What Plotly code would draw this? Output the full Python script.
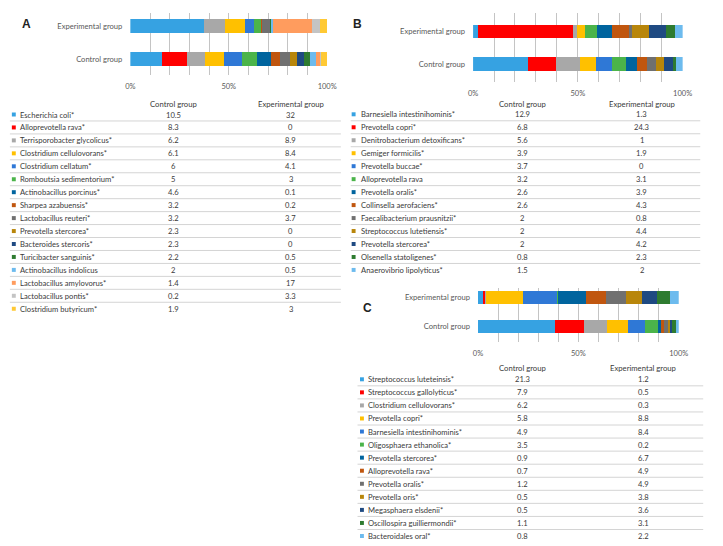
import plotly.graph_objects as go

W, H = 723, 546
groups = ["Control group", "Experimental group"]

palette = ["#36A2E2", "#FF0000", "#A8A8A8", "#FFC000", "#2F78D6", "#4BB44A",
           "#00649E", "#C0560F", "#707070", "#B8860B", "#1F4A82", "#2E7B30",
           "#6DBBEE", "#FF9C5E", "#C4C4C4", "#FFC934"]

a_names = ["Escherichia coli*", "Alloprevotella rava*", "Terrisporobacter glycolicus*",
           "Clostridium cellulovorans*", "Clostridium cellatum*", "Romboutsia sedimentorium*",
           "Actinobacillus porcinus*", "Sharpea azabuensis*", "Lactobacillus reuteri*",
           "Prevotella stercorea*", "Bacteroides stercoris*", "Turicibacter sanguinis*",
           "Actinobacillus indolicus", "Lactobacillus amylovorus*", "Lactobacillus pontis*",
           "Clostridium butyricum*"]
a_control = [10.5, 8.3, 6.2, 6.1, 6, 5, 4.6, 3.2, 3.2, 2.3, 2.3, 2.2, 2, 1.4, 0.2, 1.9]
a_exp = [32, 0, 8.9, 8.4, 4.1, 3, 0.1, 0.2, 3.7, 0, 0, 0.5, 0.5, 17, 3.3, 3]

b_names = ["Barnesiella intestinihominis*", "Prevotella copri*", "Denitrobacterium detoxificans*",
           "Gemiger formicilis*", "Prevotella buccae*", "Alloprevotella rava",
           "Prevotella oralis*", "Collinsella aerofaciens*", "Faecalibacterium prausnitzii*",
           "Streptococcus lutetiensis*", "Prevotella stercorea*", "Olsenella statoligenes*",
           "Anaerovibrio lipolyticus*"]
b_control = [12.9, 6.8, 5.6, 3.9, 3.7, 3.2, 2.6, 2.6, 2, 2, 2, 0.8, 1.5]
b_exp = [1.3, 24.3, 1, 1.9, 0, 3.1, 3.9, 4.3, 0.8, 4.4, 4.2, 2.3, 2]

c_names = ["Streptococcus luteteinsis*", "Streptococcus gallolyticus*", "Clostridium cellulovorans*",
           "Prevotella copri*", "Barnesiella intestinihominis*", "Oligosphaera ethanolica*",
           "Prevotella stercorea*", "Alloprevotella rava*", "Prevotella oralis*",
           "Prevotella oris*", "Megasphaera elsdenii*", "Oscillospira guilliermondii*",
           "Bacteroidales oral*"]
c_control = [21.3, 7.9, 6.2, 5.8, 4.9, 3.5, 0.9, 0.7, 1.2, 0.5, 0.5, 1.1, 0.8]
c_exp = [1.2, 0.5, 0.3, 8.8, 8.4, 0.2, 6.7, 4.9, 4.9, 3.8, 3.6, 3.1, 2.2]

FONT = "Lato, 'Open Sans', sans-serif"
TXT = "#3a3a3a"

def px(x):
    return x / W

def py(y):
    return 1 - y / H

fig = go.Figure()
annotations = []
shapes = []

panels = [
    dict(names=a_names, ctrl=a_control, exp=a_exp, idx=1, xd=(128, 329), yd=(13, 75),
         yr=(-0.485, 1.394), letter="A", lpos=(22, 24),
         row0=114.5, step=12.95, sqx=9, tx=13, cx=172, ex=292, hy=104, lx=(5, 343)),
    dict(names=b_names, ctrl=b_control, exp=b_exp, idx=2, xd=(478, 692), yd=(13, 82),
         yr=(-0.554, 1.569), letter="B", lpos=(360, 24),
         row0=114.3, step=12.97, sqx=356, tx=361, cx=528, ex=650, hy=104, lx=(353, 710)),
    dict(names=c_names, ctrl=c_control, exp=c_exp, idx=3, xd=(483, 688), yd=(288, 342),
         yr=(-0.534, 1.328), letter="C", lpos=(370, 308),
         row0=379.3, step=13.06, sqx=364.5, tx=369, cx=528, ex=652, hy=368, lx=(360, 713)),
]

layout_axes = {}
for p in panels:
    i = p["idx"]
    xa = "x" if i == 1 else f"x{i}"
    ya = "y" if i == 1 else f"y{i}"
    for k, (n, c, e) in enumerate(zip(p["names"], p["ctrl"], p["exp"])):
        fig.add_trace(go.Bar(
            y=groups, x=[c, e], name=n, orientation="h",
            marker=dict(color=palette[k], line=dict(width=0)),
            width=0.42, xaxis=xa, yaxis=ya, showlegend=False,
            hovertemplate=n + ": %{x}<extra></extra>"))
    xkey = "xaxis" if i == 1 else f"xaxis{i}"
    ykey = "yaxis" if i == 1 else f"yaxis{i}"
    layout_axes[xkey] = dict(
        domain=[px(p["xd"][0]), px(p["xd"][1])], anchor=ya, range=[0, 100],
        tickvals=[0, 50, 100], ticktext=["0%", "50%", "100%"],
        showgrid=True, gridcolor="#c4c4c4", gridwidth=1, zeroline=False, showline=False,
        minor=dict(dtick=10, showgrid=True, gridcolor="#c4c4c4", gridwidth=1),
        ticks="", tickfont=dict(size=7.5, color="#595959", family=FONT),
        ticklabelstandoff=5, fixedrange=True)
    layout_axes[ykey] = dict(
        domain=[py(p["yd"][1]), py(p["yd"][0])], anchor=xa, type="category",
        categoryorder="array", categoryarray=groups, range=list(p["yr"]),
        showgrid=False, zeroline=False, showline=False, ticks="",
        tickfont=dict(size=7.6, color="#595959", family=FONT),
        ticklabelstandoff=7, fixedrange=True)

    annotations.append(dict(x=px(p["lpos"][0]), y=py(p["lpos"][1]), xref="paper", yref="paper",
                            text="<b>%s</b>" % p["letter"], showarrow=False,
                            font=dict(size=12, color="#222222", family="Liberation Sans, Arial"),
                            xanchor="center", yanchor="middle"))
    for hx, ht in ((p["cx"], groups[0]), (p["ex"], groups[1])):
        annotations.append(dict(x=px(hx), y=py(p["hy"]), xref="paper", yref="paper",
                                text=ht, showarrow=False,
                                font=dict(size=7.7, color=TXT, family=FONT),
                                xanchor="center", yanchor="middle"))
    nrows = len(p["names"])
    for k, (n, c, e) in enumerate(zip(p["names"], p["ctrl"], p["exp"])):
        ry = p["row0"] + k * p["step"]
        annotations.append(dict(x=px(p["tx"]), y=py(ry), xref="paper", yref="paper",
                                text=n, showarrow=False,
                                font=dict(size=7.6, color=TXT, family=FONT),
                                xanchor="left", yanchor="middle"))
        for vx, v in ((p["cx"], c), (p["ex"], e)):
            annotations.append(dict(x=px(vx), y=py(ry), xref="paper", yref="paper",
                                    text=f"{v:g}", showarrow=False,
                                    font=dict(size=7.6, color=TXT, family=FONT),
                                    xanchor="center", yanchor="middle"))
        s = 2
        shapes.append(dict(type="rect", xref="paper", yref="paper",
                           x0=px(p["sqx"] - s), x1=px(p["sqx"] + s),
                           y0=py(ry + s), y1=py(ry - s),
                           fillcolor=palette[k], line=dict(width=0)))
        if k < nrows - 1:
            ly = ry + p["step"] / 2
            shapes.append(dict(type="line", xref="paper", yref="paper",
                               x0=px(p["lx"][0]), x1=px(p["lx"][1]), y0=py(ly), y1=py(ly),
                               line=dict(color="#d4d4d4", width=1)))

fig.update_layout(
    width=W, height=H, margin=dict(l=0, r=0, t=0, b=0),
    paper_bgcolor="white", plot_bgcolor="white",
    barmode="stack", barnorm="percent", bargap=0,
    annotations=annotations, shapes=shapes,
    font=dict(family=FONT, color=TXT),
    **layout_axes)

fig.write_html("out.html", config={"displayModeBar": False},
               post_script="document.body.style.margin='0';document.body.style.overflow='hidden';")
